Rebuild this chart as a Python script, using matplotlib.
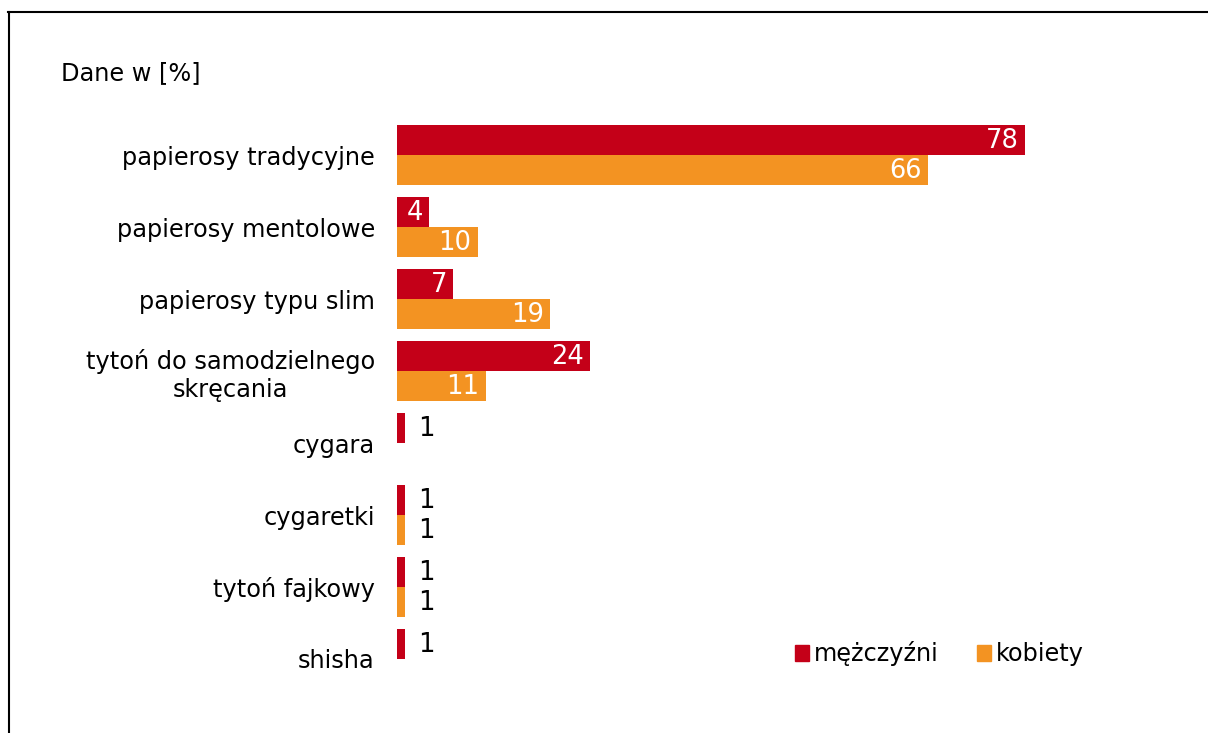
import matplotlib.pyplot as plt
from matplotlib.lines import Line2D
from matplotlib.patches import Patch

# Data
categories = ['papierosy tradycyjne', 'papierosy mentolowe', 'papierosy typu slim',
              'tytoń do samodzielnego\nskręcania', 'cygara', 'cygaretki',
              'tytoń fajkowy', 'shisha']
men = [78, 4, 7, 24, 1, 1, 1, 1]
women = [66, 10, 19, 11, 0, 1, 1, 0]

red = '#C40018'
orange = '#F39322'

W, H = 1208, 733
fig = plt.figure(figsize=(W / 100, H / 100), dpi=100)
plt.rcParams['font.family'] = 'DejaVu Sans'

# axes placed in pixel coords
left, right, top, bottom = 397, 1100, 119, 695
ax = fig.add_axes([left / W, 1 - bottom / H, (right - left) / W, (bottom - top) / H])

h = 0.4167
ys = list(range(len(categories)))
ax.barh([y - h / 2 for y in ys], men, height=h, color=red)
ax.barh([y + h / 2 for y in ys], women, height=h, color=orange)

ax.set_xlim(0, (right - left) / 8.05)
ax.set_ylim(len(categories) - 0.5, -0.5)

fs = 17.3
vfs = 18.5
for y, m, w in zip(ys, men, women):
    for val, yy in ((m, y - h / 2), (w, y + h / 2)):
        if val == 0:
            continue
        if val >= 3:
            ax.text(val - 0.8, yy + 0.02, str(val), ha='right', va='center',
                    color='white', fontsize=vfs)
        else:
            ax.text(val + 1.6, yy + 0.02, str(val), ha='left', va='center',
                    color='black', fontsize=vfs)

ax.set_yticks(ys)
ax.set_yticklabels(categories, fontsize=fs, ha='right')
for lbl in ax.get_yticklabels():
    lbl.set_multialignment('center')
ax.tick_params(axis='y', length=0, pad=16)
ax.tick_params(axis='x', bottom=False, labelbottom=False)
for s in ax.spines.values():
    s.set_visible(False)

fig.text(61 / W, 1 - 73 / H, 'Dane w [%]', fontsize=fs, va='center', ha='left')

handles = [Patch(color=red, label='mężczyźni'), Patch(color=orange, label='kobiety')]
fig.legend(handles=handles, loc='center left', bbox_to_anchor=(773 / W, 1 - 654 / H),
           ncol=2, frameon=False, fontsize=fs, handlelength=0.6, handleheight=0.6,
           handletextpad=0.2, columnspacing=1.6)

# outer frame (partly cut off on the right and bottom)
fig.add_artist(Line2D([9 / W, 9 / W], [0, 1 - 12 / H], color='black', lw=1.5,
                      transform=fig.transFigure))
fig.add_artist(Line2D([8 / W, 1], [1 - 12 / H, 1 - 12 / H], color='black', lw=1.5,
                      transform=fig.transFigure))

fig.savefig('out.png', dpi=100)
